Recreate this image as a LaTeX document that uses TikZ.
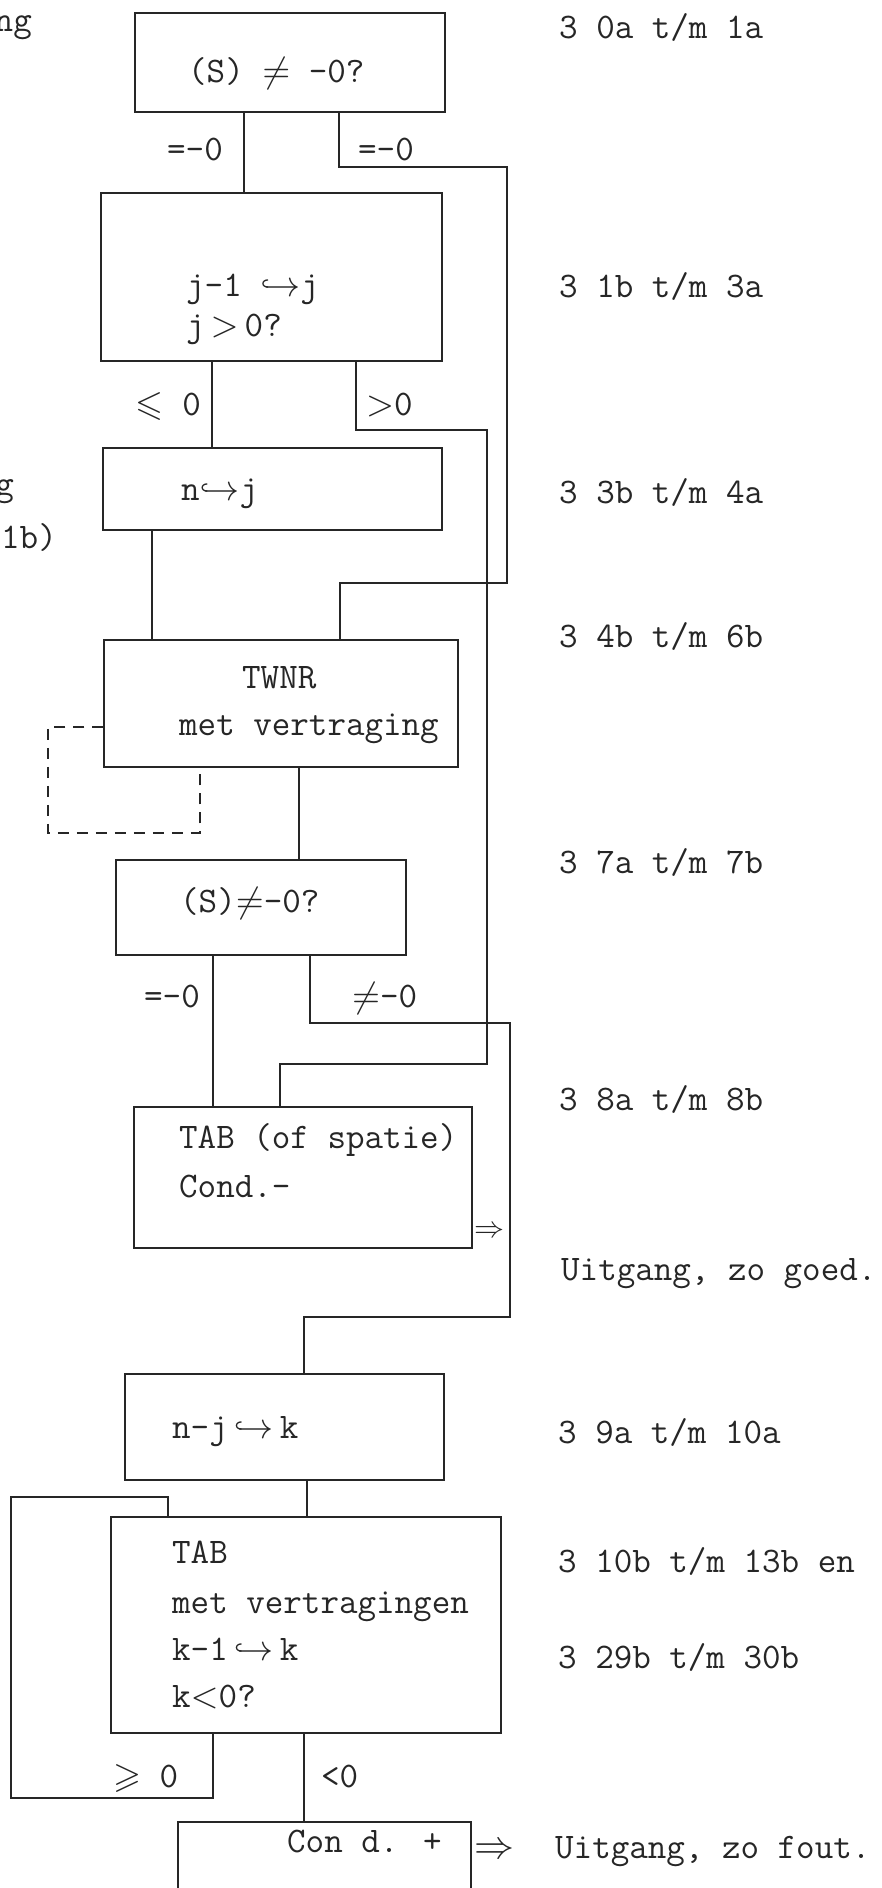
\documentclass[tikz,border=0pt]{standalone}
\usepackage{amssymb}
\DeclareFontShape{OML}{cmm}{m}{it}{<->cmmi10}{}
\DeclareFontShape{OMS}{cmsy}{m}{n}{<->cmsy10}{}
\DeclareFontShape{OT1}{cmr}{m}{n}{<->cmr10}{}
\DeclareFontFamily{U}{msa}{}
\DeclareFontShape{U}{msa}{m}{n}{<-> msam10}{}
\usepackage{tikz}
\usetikzlibrary{calc}
\newcommand{\typemachine}{\fontsize{36}{40}\selectfont\ttfamily}
\definecolor{inkt}{RGB}{38,38,38}
\tikzset{%
  blok/.style n args={2}{draw=inkt,line width=1.5pt,inner sep=0pt,minimum width=#1,minimum height=#2},
  lijn/.style={draw=inkt,line width=1.2pt},
  stippel/.style={lijn,dash pattern=on 11pt off 8pt},
  tekst/.style={text=inkt,font=\typemachine,anchor=base west,inner sep=0pt},
  pijl/.style={text=inkt,inner sep=0pt}
}

\begin{document}
\begin{tikzpicture}[x=1pt,y=-1pt]
  \useasboundingbox[fill=white] (0,0) rectangle (882,1888);
  \node[blok={310}{99}] (b1) at (290,62.5) {};
  \node[blok={341}{168}] (b2) at (271.5,277) {};
  \node[blok={339}{82}] (b3) at (272.5,489) {};
  \node[blok={354}{127}] (b4) at (281,703.5) {};
  \node[blok={290}{95}] (b5) at (261,907.5) {};
  \node[blok={338}{141}] (b6) at (303,1177.5) {};
  \node[blok={319}{106}] (b7) at (284.5,1427) {};
  \node[blok={390}{216}] (b8) at (306,1625) {};
  \node[blok={293}{130}] (b9) at (324.5,1887) {};

  \node[tekst] (t1) at (188,82) {(S) $\neq$ -0?};
  \node[tekst] (t2) at (186,296) {j-1 $\hookrightarrow$j};
  \node[tekst] (t3) at (186,336) {j\,$>$\,0?};
  \node[tekst] (t4) at (181,500) {n$\hookrightarrow$j};
  \node[tekst] (t5) at (242,688) {TWNR};
  \node[tekst] (t6) at (179,735) {met vertraging};
  \node[tekst] (t7) at (180,912) {(S)$\neq$-0?};
  \node[tekst] (t8) at (179,1148) {TAB (of spatie)};
  \node[tekst] (t9) at (179,1197) {Cond.-};
  \node[tekst] (t10) at (172,1438) {n-j\,$\hookrightarrow$\,k};
  \node[tekst] (t11) at (172,1563) {TAB};
  \node[tekst] (t12) at (172,1613) {met vertragingen};
  \node[tekst] (t13) at (172,1660) {k-1\,$\hookrightarrow$\,k};
  \node[tekst] (t14) at (172,1707) {k$<$0?};
  \node[tekst] (t15) at (287,1852) {Con d. +};

  \node[tekst] (v1) at (167,160) {=-0};
  \node[tekst] (v2) at (358,160) {=-0};
  \node[tekst,anchor=base east] (v3) at (201,415) {$\leqslant$ 0};
  \node[tekst] (v4) at (366,415) {$>$0};
  \node[tekst] (v5) at (144,1007) {=-0};
  \node[tekst] (v6) at (352,1007) {$\neq$-0};
  \node[tekst] (v7) at (113,1787) {$\geqslant$ 0};
  \node[tekst] (v8) at (321,1787) {<0};

  \node[pijl,font=\fontsize{30}{34}\selectfont] (u1) at (489,1232) {$\Rightarrow$};
  \node[pijl,font=\fontsize{40}{44}\selectfont] (u2) at (494,1851) {$\Rightarrow$};

  \node[tekst] (r1) at (559,38) {3 0a t/m 1a};
  \node[tekst] (r2) at (559,297) {3 1b t/m 3a};
  \node[tekst] (r3) at (559,503) {3 3b t/m 4a};
  \node[tekst] (r4) at (559,647) {3 4b t/m 6b};
  \node[tekst] (r5) at (559,873) {3 7a t/m 7b};
  \node[tekst] (r6) at (559,1110) {3 8a t/m 8b};
  \node[tekst] (r7) at (561,1280) {Uitgang, zo goed.};
  \node[tekst] (r8) at (558,1443) {3 9a t/m 10a};
  \node[tekst] (r9) at (558,1572) {3 10b t/m 13b en};
  \node[tekst] (r10) at (558,1668) {3 29b t/m 30b};
  \node[tekst] (r11) at (555,1858) {Uitgang, zo fout.};

  \node[tekst,anchor=base east] (l1) at (32,31) {ng};
  \node[tekst,anchor=base east] (l2) at (14,495) {g};
  \node[tekst,anchor=base east] (l3) at (57,548) {1b)};

  \coordinate (k1) at (244,0);
  \coordinate (k2) at (212,0);
  \coordinate (k3) at (152,0);
  \coordinate (k4) at (299,0);
  \coordinate (k5) at (213,0);
  \coordinate (k6) at (307,0);
  \coordinate (k7) at (304,0);
  \coordinate (a1) at (339,167);
  \coordinate (a2) at (507,583);
  \coordinate (a3) at (340,583);
  \coordinate (c1) at (356,430);
  \coordinate (c2) at (487,1064);
  \coordinate (c3) at (280,1064);
  \coordinate (e1) at (310,1023);
  \coordinate (e2) at (510,1317);
  \coordinate (e3) at (304,1317);
  \coordinate (g1) at (213,1798);
  \coordinate (g2) at (11,1497);
  \coordinate (g3) at (168,1497);
  \coordinate (d1) at (48,727);
  \coordinate (d2) at (200,833);

  \draw[lijn] (b1.south -| k1) -- (b2.north -| k1);
  \draw[lijn] (b1.south -| a1) -- (a1) -| (a2) -| (b4.north -| a3);
  \draw[lijn] (b2.south -| k2) -- (b3.north -| k2);
  \draw[lijn] (b2.south -| c1) -- (c1) -| (c2) -| (b6.north -| c3);
  \draw[lijn] (b3.south -| k3) -- (b4.north -| k3);
  \draw[stippel] (b4.west |- d1) -- (d1) |- (d2) -- (b4.south -| d2);
  \draw[lijn] (b4.south -| k4) -- (b5.north -| k4);
  \draw[lijn] (b5.south -| k5) -- (b6.north -| k5);
  \draw[lijn] (b5.south -| e1) -- (e1) -| (e2) -| (b7.north -| e3);
  \draw[lijn] (b7.south -| k6) -- (b8.north -| k6);
  \draw[lijn] (b8.south -| g1) -- (g1) -| (g2) -| (b8.north -| g3);
  \draw[lijn] (b8.south -| k7) -- (b9.north -| k7);
\end{tikzpicture}
\end{document}
